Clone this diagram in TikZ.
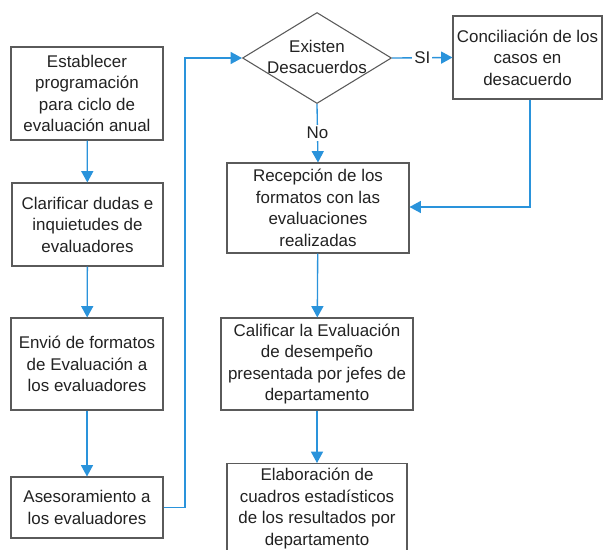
\documentclass[tikz,border=0pt]{standalone}
\usepackage{fontspec}
\setmainfont{Liberation Sans}
\usetikzlibrary{shapes.geometric,arrows.meta}
\definecolor{flowblue}{HTML}{2A93DB}
\definecolor{boxgray}{HTML}{5A5A5A}
\definecolor{txtgray}{HTML}{222222}
\begin{document}
\begin{tikzpicture}[x=0.75pt,y=-0.75pt,
  every node/.style={font=\fontsize{12.7}{16.1}\selectfont, text=txtgray},
  box/.style={draw=boxgray, line width=0.8pt, align=center, inner sep=0pt, fill=white},
  flow/.style={draw=flowblue, line width=1pt, -{Triangle[length=8.5pt,width=9pt]}},
  lbl/.style={fill=white, inner sep=1.5pt}]
\useasboundingbox (0,0) rectangle (604,550);
\fill[white] (0,0) rectangle (604,550);

\node[box, minimum width=152*0.75pt, minimum height=93*0.75pt] (b1) at (87,93.5)
  {Establecer\\programación\\para ciclo de\\evaluación anual};
\node[box, minimum width=151*0.75pt, minimum height=83*0.75pt] (b2) at (87.5,224.5)
  {Clarificar dudas e\\inquietudes de\\evaluadores};
\node[box, minimum width=152*0.75pt, minimum height=92*0.75pt] (b3) at (87,364)
  {Envió de formatos\\de Evaluación a\\los evaluadores};
\node[box, minimum width=152*0.75pt, minimum height=61*0.75pt] (b4) at (87,507.5)
  {Asesoramiento a\\los evaluadores};

\node[draw=boxgray, line width=0.8pt, diamond, inner sep=0pt,
  minimum width=149*0.75pt, minimum height=91*0.75pt] (d) at (317,58) {};
\node[align=center, inner sep=0pt] (dt) at (317,57) {Existen\\Desacuerdos};

\node[box, minimum width=149*0.75pt, minimum height=83*0.75pt] (c) at (527.5,57.5)
  {Conciliación de los\\casos en\\desacuerdo};
\node[box, minimum width=182*0.75pt, minimum height=90*0.75pt] (r) at (318,208)
  {Recepción de los\\formatos con las\\evaluaciones\\realizadas};
\node[box, minimum width=192*0.75pt, minimum height=92*0.75pt] (k) at (317,364)
  {Calificar la Evaluación\\de desempeño\\presentada por jefes de\\departamento};
\node[box, minimum width=180*0.75pt, minimum height=98*0.75pt, anchor=north] (e) at (317,463)
  {\rule{0pt}{0pt}};
\node[align=center, inner sep=0pt] (et) at (317,508.5)
  {Elaboración de\\cuadros estadísticos\\de los resultados por\\departamento};

\coordinate (l1) at (185,507.5);
\coordinate (l2) at (185,58);
\coordinate (c1) at (530,207);

\draw[flow] (b1) -- (b2);
\draw[flow] (b2) -- (b3);
\draw[flow] (b3) -- (b4);
\draw[flow] (b4.east) -- (l1) -- (l2) -- (d.west);
\draw[flow] (d.east) -- node[lbl, pos=0.5] (si) {SI} (c.west);
\draw[flow] (d.south) -- node[lbl, pos=0.5] (no) {No} (r.north);
\draw[flow] (c.south -| c1) -- (c1) -- (r.east |- c1);
\draw[flow] (r) -- (k);
\draw[flow] (k) -- (e.north);
\end{tikzpicture}
\end{document}
